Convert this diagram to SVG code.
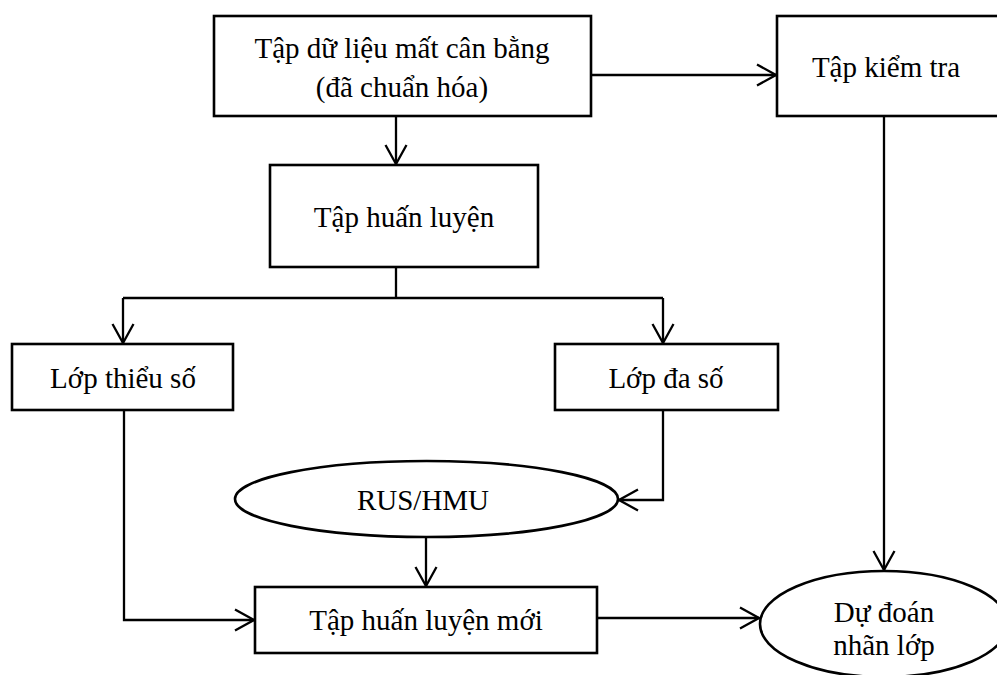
<svg xmlns="http://www.w3.org/2000/svg" width="997" height="675" viewBox="0 0 997 675">
<style>
.box{fill:#fff;stroke:#000;stroke-width:2.6}
.ln{fill:none;stroke:#000;stroke-width:2.3}
.t{font-family:"Liberation Serif","Times New Roman",serif;font-size:29px;fill:#000;text-anchor:middle}
</style>
<defs>
<marker id="ah" markerUnits="userSpaceOnUse" viewBox="-21 -12 23 24" refX="0" refY="0" markerWidth="23" markerHeight="24" orient="auto">
<path d="M-19,-10.5 L0,0 L-19,10.5" fill="none" stroke="#000" stroke-width="2.3"/>
</marker>
</defs>
<rect width="997" height="675" fill="#fff"/>
<g id="connectors">
<path class="ln" d="M591,75 H776" marker-end="url(#ah)"/>
<path class="ln" d="M396,116 V164" marker-end="url(#ah)"/>
<path class="ln" d="M396,267 V298 M123,298 H663"/>
<path class="ln" d="M123,298 V343" marker-end="url(#ah)"/>
<path class="ln" d="M663,298 V343" marker-end="url(#ah)"/>
<path class="ln" d="M663,410 V500 H619" marker-end="url(#ah)"/>
<path class="ln" d="M124,410 V620 H254" marker-end="url(#ah)"/>
<path class="ln" d="M426,537 V586" marker-end="url(#ah)"/>
<path class="ln" d="M597,618 H759" marker-end="url(#ah)"/>
<path class="ln" d="M884,116 V570" marker-end="url(#ah)"/>
</g>
<g id="n_dataset">
<rect class="box" x="214" y="16" width="377" height="100"/>
<text class="t" x="402" y="58">Tập dữ liệu mất cân bằng</text>
<text class="t" x="402" y="97">(đã chuẩn hóa)</text>
</g>
<g id="n_test">
<rect class="box" x="777" y="16" width="222" height="100"/>
<text class="t" x="886" y="77">Tập kiểm tra</text>
</g>
<g id="n_train">
<rect class="box" x="270" y="165" width="268" height="102"/>
<text class="t" x="404" y="227">Tập huấn luyện</text>
</g>
<g id="n_minority">
<rect class="box" x="12" y="344" width="221" height="66"/>
<text class="t" x="123" y="388">Lớp thiểu số</text>
</g>
<g id="n_majority">
<rect class="box" x="555" y="344" width="223" height="66"/>
<text class="t" x="666" y="388">Lớp đa số</text>
</g>
<g id="n_rus">
<ellipse class="box" cx="426.5" cy="499" rx="191.5" ry="38"/>
<text class="t" x="423" y="510">RUS/HMU</text>
</g>
<g id="n_newtrain">
<rect class="box" x="255" y="587" width="342" height="66"/>
<text class="t" x="426" y="630">Tập huấn luyện mới</text>
</g>
<g id="n_predict">
<ellipse class="box" cx="884" cy="624" rx="124" ry="53"/>
<text class="t" x="884" y="622">Dự đoán</text>
<text class="t" x="884" y="655">nhãn lớp</text>
</g>
</svg>
